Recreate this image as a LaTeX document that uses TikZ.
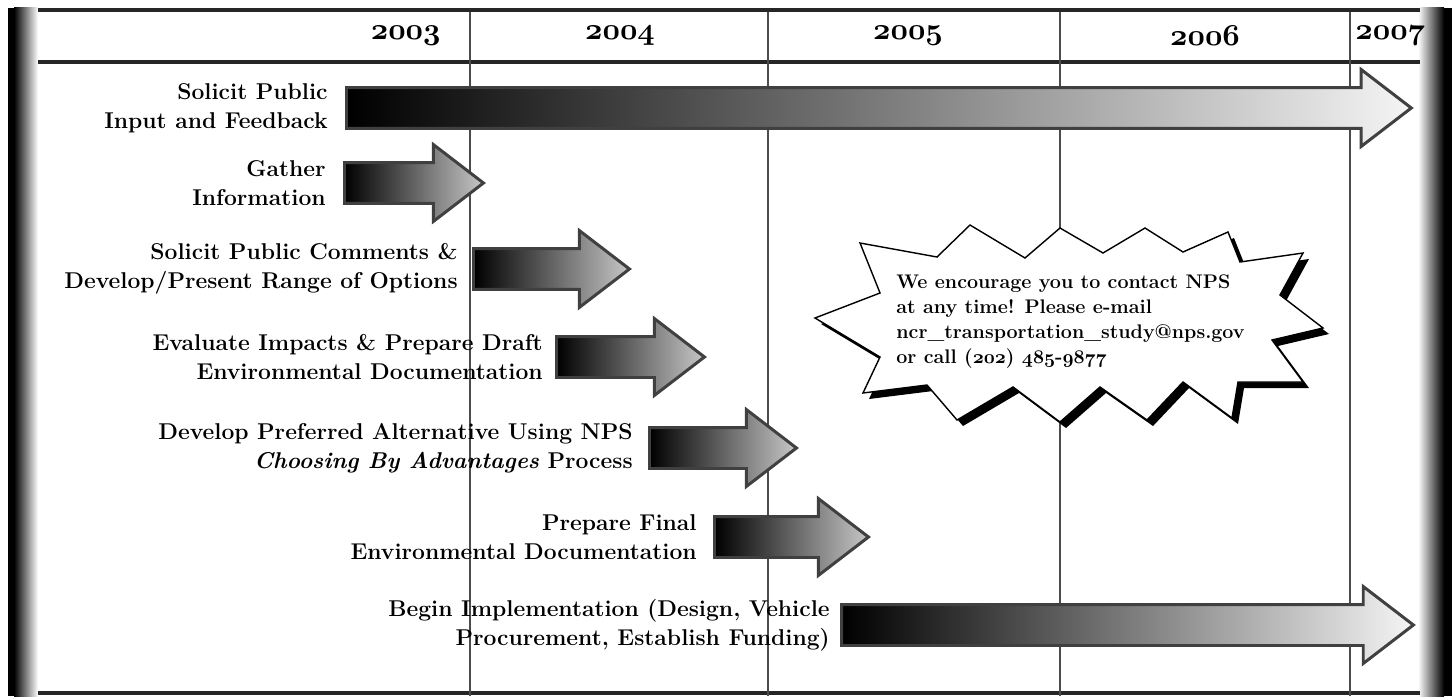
\documentclass[tikz,border=0pt]{standalone}
\usepackage{tikz}
\usetikzlibrary{shapes,arrows,positioning}
\tikzstyle{headrule} = [draw=black!85, line width=1.8pt]
\tikzstyle{yearline} = [draw=black!70, line width=1.1pt]
\tikzstyle{year} = [inner sep=0pt, font=\fontsize{18}{20}\selectfont]
\tikzstyle{task} = [align=right, inner sep=0pt, font=\fontsize{13}{16.4}\selectfont\bfseries]
\tikzstyle{phase} = [single arrow, draw=black!75, line width=1.7pt, left color=black, right color=black!22, inner xsep=0pt, inner ysep=0.38cm, single arrow head extend=0.36cm, single arrow tip angle=75, single arrow head indent=0pt, anchor=tail]
\newcommand{\osn}[1]{{\usefont{OML}{cmm}{b}{it}#1}}
\newcommand{\burstpath}{(815,318) -- (880,293) -- (860,243) -- (937,257) -- (970,225) -- (1025,258) -- (1060,228) -- (1103,253) -- (1145,228) -- (1183,252) -- (1228,232) -- (1240,262) -- (1303,253) -- (1280,295) -- (1323,328) -- (1272,340) -- (1303,382) -- (1238,382) -- (1232,418) -- (1183,382) -- (1147,420) -- (1100,387) -- (1060,422) -- (1013,387) -- (957,420) -- (927,385) -- (863,393) -- (880,357) -- cycle}

\begin{document}
\begin{tikzpicture}[x=0.02cm, y=-0.02cm]
        \useasboundingbox (0,0) rectangle (1452,696);
        
        \fill[black] (8,8) rectangle (14,696);
        \shade[left color=black, right color=white] (14,8) rectangle (38,696);
        \shade[left color=white, right color=black] (1418,8) rectangle (1444,696);
        \fill[black] (1444,8) rectangle (1452,696);
        
        \draw[headrule, line width=2.6pt] (38,10) -- (1420,10);
        \draw[headrule] (38,62) -- (1420,62);
        \draw[headrule] (38,693) -- (1420,693);
        \foreach \x in {470,768,1060,1350}
            \draw[yearline] (\x,12) -- (\x,696);
        
        \node (y3) [year, anchor=east] at (441,36) {\osn{2003}};
        \node (y4) [year] at (620,36) {\osn{2004}};
        \node (y5) [year] at (908,36) {\osn{2005}};
        \node (y6) [year] at (1205,36) {\osn{2006}};
        \node (y7) [year, anchor=west] at (1355,36) {\osn{2007}};
        
        \node (a1) [phase, minimum height=21.3cm, right color=black!4] at (345,108) {};
        \node (a2) [phase, minimum height=2.78cm] at (343,183) {};
        \node (a3) [phase, minimum height=3.12cm] at (472,269) {};
        \node (a4) [phase, minimum height=2.96cm] at (555,357) {};
        \node (a5) [phase, minimum height=2.94cm] at (648,448) {};
        \node (a6) [phase, minimum height=3.08cm] at (713,537) {};
        \node (a7) [phase, minimum height=11.44cm, right color=black!4] at (840,625) {};
        
        \node (t1) [task, left=0.34cm of a1.tail] {Solicit Public\\Input and Feedback};
        \node (t2) [task, left=0.34cm of a2.tail] {Gather\\Information};
        \node (t3) [task, left=0.28cm of a3.tail] {Solicit Public Comments \&\\Develop/Present Range of Options};
        \node (t4) [task, left=0.24cm of a4.tail] {Evaluate Impacts \& Prepare Draft\\Environmental Documentation};
        \node (t5) [task, left=0.3cm of a5.tail] {Develop Preferred Alternative Using NPS\\\textit{Choosing By Advantages} Process};
        \node (t6) [task, left=0.32cm of a6.tail] {Prepare Final\\Environmental Documentation};
        \node (t7) [task, left=0.2cm of a7.tail] {Begin Implementation (Design, Vehicle\\Procurement, Establish Funding)};
        
        \fill[black, shift={(6,6)}] \burstpath;
        \draw[fill=white, line width=0.8pt] \burstpath;
        \node (note) [anchor=west, align=left, inner sep=0pt, font=\fontsize{11.2}{14.2}\selectfont\bfseries] at (896,322) {We encourage you to contact NPS\\at any time! Please e-mail\\ncr\_transportation\_study@nps.gov\\or call (\osn{202}) \osn{485}-\osn{9877}};
        
    \end{tikzpicture}
\end{document}
